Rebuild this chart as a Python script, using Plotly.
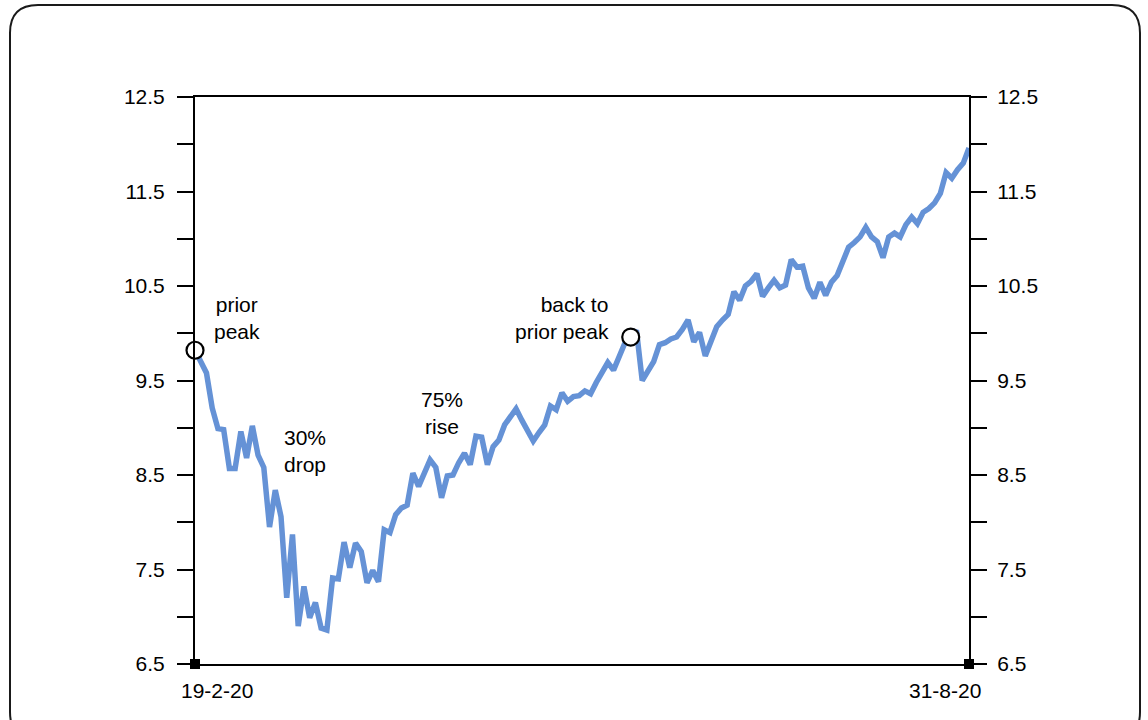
import plotly.graph_objects as go

# ---- data ----
x_tick_labels = ["19-2-20", "31-8-20"]
trading_day = list(range(136))
value = [
    9.82, 9.70, 9.58, 9.21, 8.99, 8.98, 8.57, 8.57, 8.96, 8.68,
    9.02, 8.71, 8.58, 7.95, 8.34, 8.06, 7.20, 7.87, 6.90, 7.32,
    6.99, 7.15, 6.88, 6.86, 7.41, 7.40, 7.79, 7.52, 7.78, 7.69,
    7.36, 7.49, 7.37, 7.92, 7.89, 8.08, 8.15, 8.18, 8.52, 8.38,
    8.52, 8.66, 8.58, 8.26, 8.49, 8.50, 8.63, 8.73, 8.61, 8.91,
    8.90, 8.61, 8.80, 8.87, 9.03, 9.12, 9.20, 9.08, 8.96, 8.86,
    8.95, 9.03, 9.23, 9.19, 9.37, 9.28, 9.33, 9.34, 9.39, 9.36,
    9.48, 9.58, 9.69, 9.61, 9.75, 9.90, 9.96, 10.03, 9.50, 9.60,
    9.70, 9.88, 9.90, 9.94, 9.96, 10.04, 10.14, 9.91, 10.01, 9.76,
    9.90, 10.07, 10.14, 10.20, 10.44, 10.35, 10.50, 10.55, 10.63, 10.39,
    10.48, 10.56, 10.48, 10.51, 10.78, 10.70, 10.71, 10.48, 10.37, 10.54,
    10.40, 10.54, 10.61, 10.76, 10.91, 10.96, 11.02, 11.12, 11.02, 10.97,
    10.80, 11.02, 11.06, 11.02, 11.15, 11.23, 11.16, 11.28, 11.32, 11.38,
    11.48, 11.70, 11.64, 11.73, 11.80, 11.96,
]
peak_days = [0, 76]
y_min, y_max = 6.5, 12.5
y_ticks = [6.5, 7.0, 7.5, 8.0, 8.5, 9.0, 9.5, 10.0, 10.5, 11.0, 11.5, 12.0, 12.5]
y_tick_text = ["6.5", "", "7.5", "", "8.5", "", "9.5", "", "10.5", "", "11.5", "", "12.5"]

FONT = "Liberation Sans, Arial, Helvetica, sans-serif"
FS = 21
W, H = 1148, 720
L, R, T, B = 195, 179, 97, 56
pw, ph = W - L - R, H - T - B

fig = go.Figure()

fig.add_trace(go.Scatter(
    x=trading_day, y=value, mode="lines",
    line=dict(color="#6592d6", width=5.5), hoverinfo="skip", showlegend=False,
))

fig.add_trace(go.Scatter(
    x=peak_days, y=[value[d] for d in peak_days], mode="markers",
    marker=dict(symbol="circle", size=17, color="white",
                line=dict(color="black", width=2.2)),
    cliponaxis=False, hoverinfo="skip", showlegend=False,
))

fig.add_trace(go.Scatter(
    x=[trading_day[0], trading_day[-1]], y=[y_min, y_min], mode="markers",
    marker=dict(symbol="square", size=10, color="black"),
    cliponaxis=False, hoverinfo="skip", showlegend=False, yaxis="y2",
))

axis_common = dict(
    range=[y_min, y_max], tickmode="array", tickvals=y_ticks, ticktext=y_tick_text,
    ticks="outside", ticklen=16, tickwidth=1.6, tickcolor="black",
    showline=True, linecolor="black", linewidth=2, showgrid=False, zeroline=False,
    tickfont=dict(family=FONT, size=FS, color="black"),
)

fig.update_layout(
    width=W, height=H,
    margin=dict(l=L, r=R, t=T, b=B),
    paper_bgcolor="white", plot_bgcolor="white",
    xaxis=dict(range=[trading_day[0], trading_day[-1]], showline=True, mirror=True,
               linecolor="black", linewidth=2, showgrid=False, zeroline=False,
               showticklabels=False, ticks=""),
    yaxis=dict(side="left", ticklabelstandoff=8, **axis_common),
    yaxis2=dict(side="right", overlaying="y", ticklabelstandoff=6, **axis_common),
)


def px_to_paper(px, py):
    return (px - L) / pw, (H - B - py) / ph


# x-axis end labels
fig.add_annotation(x=trading_day[0], y=0, xref="x", yref="paper", text=x_tick_labels[0],
                   showarrow=False, xanchor="left", yanchor="top", xshift=-16, yshift=-13,
                   font=dict(family=FONT, size=FS, color="black"))
fig.add_annotation(x=trading_day[-1], y=0, xref="x", yref="paper", text=x_tick_labels[1],
                   showarrow=False, xanchor="right", yanchor="top", xshift=14, yshift=-13,
                   font=dict(family=FONT, size=FS, color="black"))

labels = [
    ("prior<br>peak", 237, 318, "center"),
    ("30%<br>drop", 305, 451, "center"),
    ("75%<br>rise", 442, 413, "center"),
    ("back to<br>prior peak", 611, 318, "right"),
]
for txt, px, py, al in labels:
    xp, yp = px_to_paper(px, py)
    fig.add_annotation(x=xp, y=yp, xref="paper", yref="paper", text=txt, showarrow=False,
                       xanchor="center" if al == "center" else "right", yanchor="middle",
                       align=al, font=dict(family=FONT, size=FS, color="black"))

# rounded outer frame
x0, y0 = px_to_paper(10, 5)
x1, y1 = px_to_paper(1140, 740)
rx, ry = 28 / pw, 28 / ph
path = (f"M {x0 + rx},{y0} L {x1 - rx},{y0} Q {x1},{y0} {x1},{y0 - ry} "
        f"L {x1},{y1 + ry} Q {x1},{y1} {x1 - rx},{y1} L {x0 + rx},{y1} "
        f"Q {x0},{y1} {x0},{y1 + ry} L {x0},{y0 - ry} Q {x0},{y0} {x0 + rx},{y0} Z")
fig.add_shape(type="path", path=path, xref="paper", yref="paper",
              line=dict(color="#1a1a1a", width=2), layer="below")

fig.write_html("out.html", config={"displayModeBar": False},
               post_script="document.body.style.margin='0';")
